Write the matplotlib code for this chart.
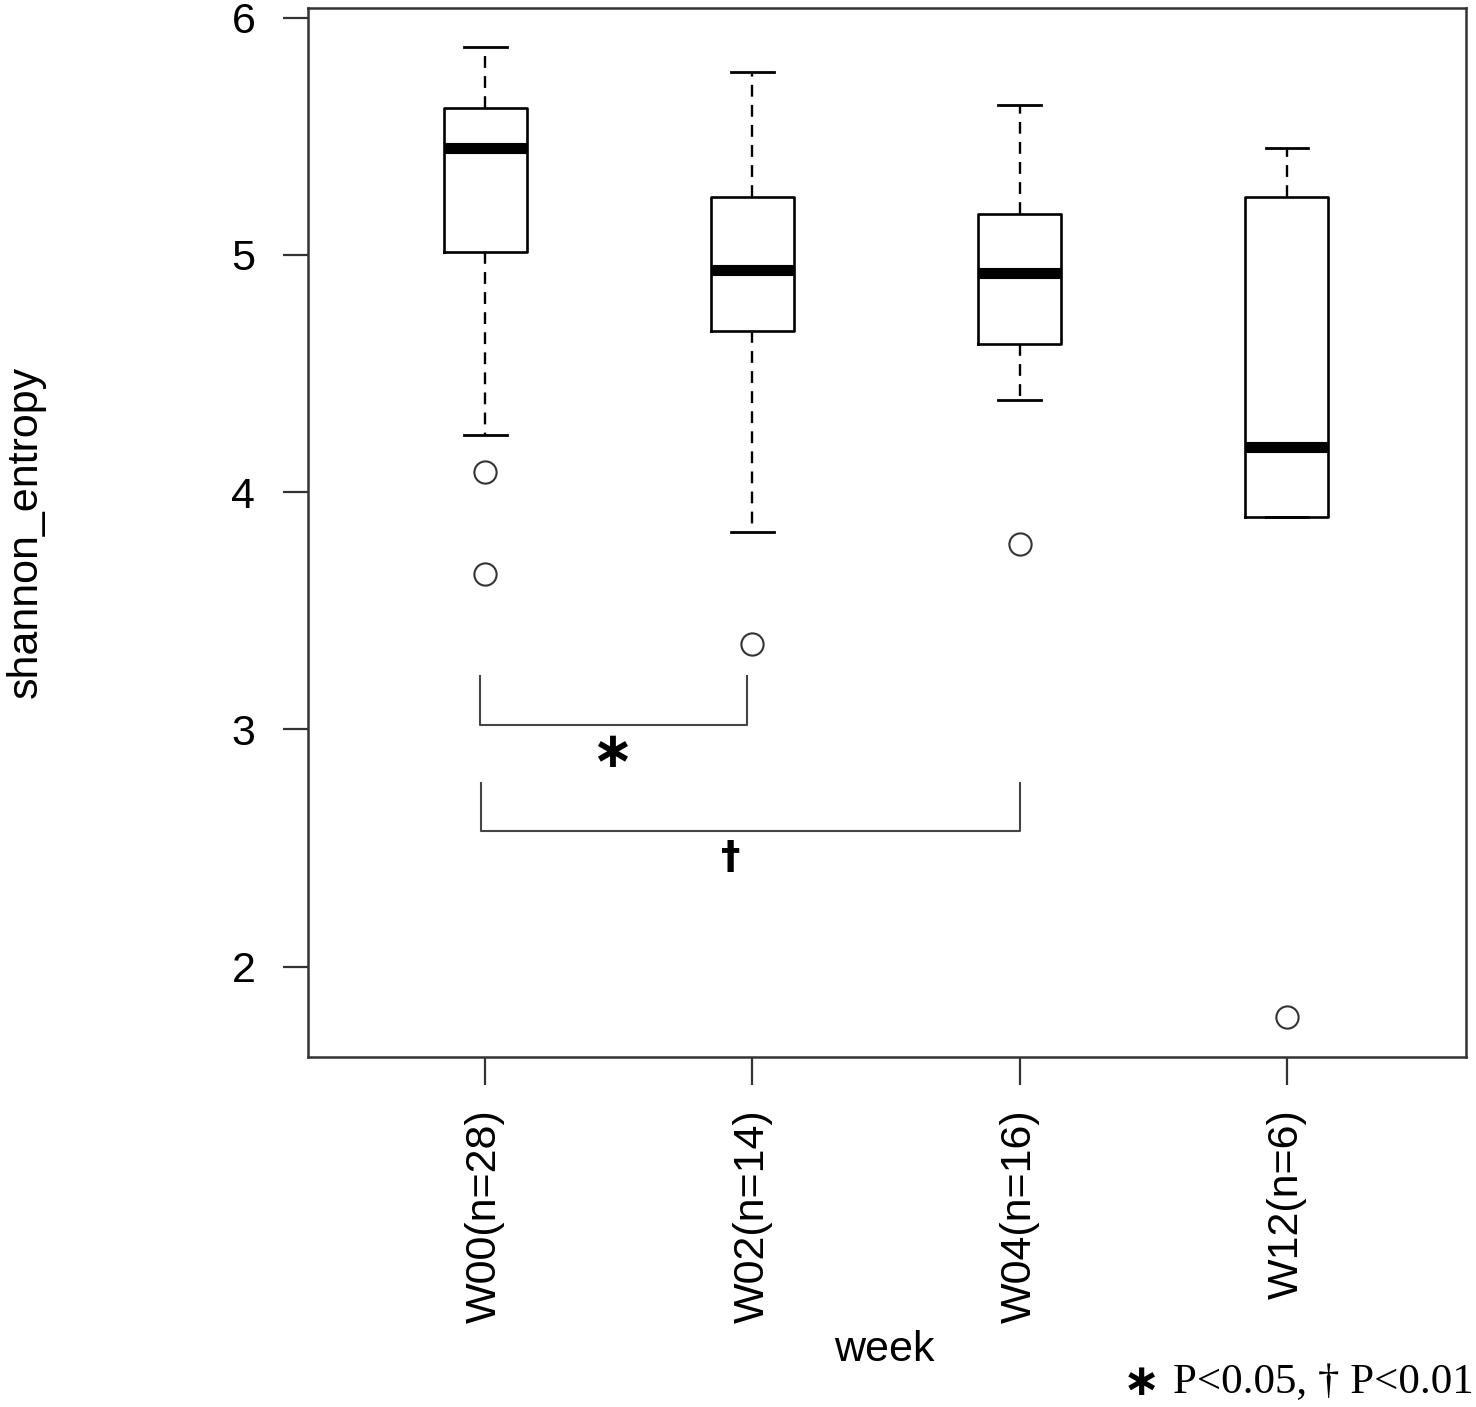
import matplotlib
matplotlib.use("Agg")
import matplotlib.pyplot as plt

# data
labels = ["W00(n=28)", "W02(n=14)", "W04(n=16)", "W12(n=6)"]
whislo = [4.24, 3.83, 4.39, 3.895]
q1 = [5.01, 4.68, 4.625, 3.895]
med = [5.45, 4.935, 4.925, 4.19]
q3 = [5.62, 5.245, 5.17, 5.245]
whishi = [5.875, 5.77, 5.63, 5.45]
fliers = [[4.085, 3.655], [3.36], [3.78], [1.79]]

# significance brackets: left x, right x, top of legs, bar level, symbol, symbol x, symbol y
brackets = [(0.98, 1.98, 3.225, 3.02, "\u2217", 1.476, 2.90),
            (0.985, 3.0, 2.775, 2.57, "\u2020", 1.92, 2.46)]

plt.rcParams["font.family"] = ["Liberation Sans", "DejaVu Sans"]

fig = plt.figure(figsize=(14.76, 14.07), dpi=100)
ax = fig.add_axes([0.2087, 0.2488, 0.7845, 0.7455])

stats = []
for i in range(len(labels)):
    stats.append(dict(label=labels[i], whislo=whislo[i], q1=q1[i], med=med[i],
                      q3=q3[i], whishi=whishi[i], fliers=fliers[i]))

ax.bxp(stats, positions=[1, 2, 3, 4], widths=0.31,
       boxprops=dict(color="black", linewidth=1.9),
       medianprops=dict(color="black", linewidth=8, solid_capstyle="butt"),
       whiskerprops=dict(color="black", linewidth=1.7, linestyle=(0, (5, 3.5))),
       capprops=dict(color="black", linewidth=2),
       flierprops=dict(marker="o", markersize=16, markerfacecolor="none",
                       markeredgecolor="#333333", markeredgewidth=1.5),
       capwidths=0.16)

for xa, xb, top, bar, sym, sx, sy in brackets:
    ax.plot([xa, xa, xb, xb], [top, bar, bar, top], color="#444444", linewidth=1.5)
    if sym == "\u2217":
        ax.text(sx, sy, sym, ha="center", va="center", fontsize=36,
                fontweight="bold", family="DejaVu Sans")
    else:
        ax.text(sx, sy, sym, ha="center", va="center", fontsize=28,
                fontweight="bold", family="DejaVu Sans")

ax.set_xlim(0.337, 4.67)
ax.set_ylim(1.62, 6.04)
ax.set_yticks([2, 3, 4, 5, 6])
ax.set_xticks([1, 2, 3, 4])
ax.set_xticklabels(labels, rotation=90)
ax.tick_params(axis="both", labelsize=31, width=1.6, color="#333333")
ax.tick_params(axis="x", length=20, pad=18)
ax.tick_params(axis="y", length=18, pad=20)
for sp in ax.spines.values():
    sp.set_linewidth(1.8)
    sp.set_color("#333333")

ax.set_xlabel("week", fontsize=31, va="center")
ax.xaxis.set_label_coords(0.498, -0.2793)
ax.set_ylabel("shannon_entropy", fontsize=31, va="center")
ax.yaxis.set_label_coords(-0.244, 0.5005)

fig.text(0.7735, 0.0175, "\u2217", ha="center", va="center", fontsize=32,
         fontweight="bold", family="DejaVu Sans")
fig.text(0.9985, 0.0175, "P<0.05, \u2020 P<0.01", ha="right", va="center",
         fontsize=31, family=["Liberation Serif", "DejaVu Serif"])

fig.savefig("out.png", dpi=100)
